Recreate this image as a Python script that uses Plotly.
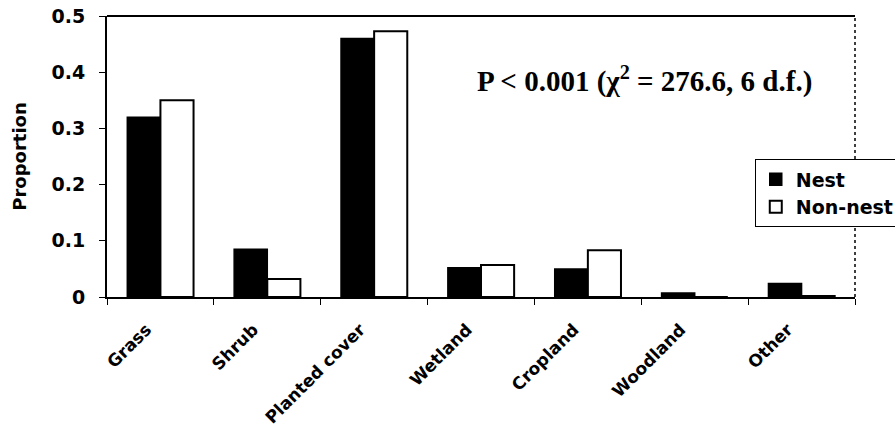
import plotly.graph_objects as go

categories = ["Grass", "Shrub", "Planted cover", "Wetland", "Cropland", "Woodland", "Other"]
nest = [0.32, 0.085, 0.46, 0.052, 0.05, 0.007, 0.024]
non_nest = [0.35, 0.032, 0.473, 0.057, 0.083, 0.0, 0.002]
y_ticks = [0, 0.1, 0.2, 0.3, 0.4, 0.5]
y_tick_labels = ["0", "0.1", "0.2", "0.3", "0.4", "0.5"]

SANS = "DejaVu Sans"

fig = go.Figure()
fig.add_trace(go.Bar(x=categories, y=nest, name="Nest",
                     marker=dict(color="black", line=dict(color="black", width=1.5))))
fig.add_trace(go.Bar(x=categories, y=non_nest, name="Non-nest",
                     marker=dict(color="white", line=dict(color="black", width=2))))

fig.update_layout(
    width=895, height=430,
    margin=dict(l=107, r=40, t=16, b=133, autoexpand=False),
    paper_bgcolor="white", plot_bgcolor="white",
    barmode="group", bargap=0.38, bargroupgap=0,
    font=dict(family=SANS, color="black"),
    showlegend=True,
    legend=dict(x=0.866, y=0.49, xanchor="left", yanchor="top",
                bgcolor="white", bordercolor="black", borderwidth=1,
                font=dict(size=19, family=SANS, weight="bold"),
                tracegroupgap=2, itemwidth=30),
    xaxis=dict(showline=True, linecolor="black", linewidth=2,
               ticks="outside", tickson="boundaries", ticklen=6, tickcolor="black",
               tickangle=-45, tickfont=dict(size=17, weight="bold", family=SANS),
               tickvals=categories, ticktext=categories,
               ticklabelstandoff=14, ticklabelshift=-14, showgrid=False, automargin=False),
    yaxis=dict(range=[0, 0.5], tickvals=y_ticks, ticktext=y_tick_labels,
               showline=True, linecolor="black", linewidth=2,
               ticks="outside", ticklen=6, tickcolor="black", ticklabelstandoff=10,
               tickfont=dict(size=19, weight="bold", family=SANS), showgrid=False, zeroline=False,
               automargin=False,
               title=dict(text="Proportion", font=dict(size=18, weight="bold", family=SANS), standoff=20)),
    shapes=[
        dict(type="line", xref="paper", yref="paper", x0=0, x1=1, y0=1, y1=1,
             line=dict(color="black", width=2)),
        dict(type="line", xref="paper", yref="paper", x0=1, x1=1, y0=0, y1=1,
             line=dict(color="black", width=1.5, dash="dot")),
    ],
    annotations=[
        dict(text="P < 0.001 (χ<sup>2</sup> = 276.6, 6 d.f.)", xref="paper", yref="paper",
             x=0.718, y=0.775, xanchor="center", yanchor="middle", showarrow=False,
             font=dict(family="Liberation Serif, Times New Roman", size=29, weight="bold", color="black")),
    ],
)

fig.write_html("out.html")
